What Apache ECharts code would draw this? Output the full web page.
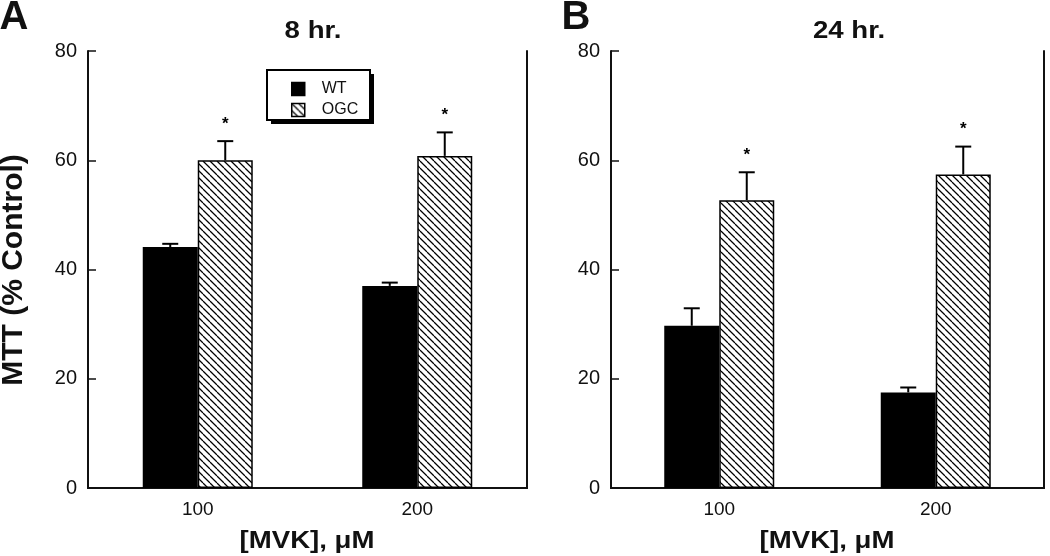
<!DOCTYPE html>
<html><head><meta charset="utf-8">
<script src="https://cdn.jsdelivr.net/npm/echarts@6/dist/echarts.min.js"></script>
<style>html,body{margin:0;padding:0;background:#fff}#c{width:1050px;height:556px}</style>
</head><body><div id="c"></div>
<script>
// ---- data ----
const categories = ['100', '200'];
const yTicks = [0, 20, 40, 60, 80];
const seriesNames = ['WT', 'OGC'];
const panelTitles = ['8 hr.', '24 hr.'];
const panelLetters = ['A', 'B'];
const xAxisTitle = '[MVK], μM';
const yAxisTitle = 'MTT (% Control)';
const wt8 = [44.1, 37.0];
const wt8Err = [0.6, 0.6];
const ogc8 = [60.0, 60.8];
const ogc8Err = [3.5, 4.3];
const wt24 = [29.7, 17.5];
const wt24Err = [3.2, 0.9];
const ogc24 = [52.7, 57.4];
const ogc24Err = [5.1, 5.1];
const sigWT = [false, false];
const sigOGC = [true, true];

const FONT = '"Liberation Sans", Arial, Helvetica, sans-serif';
const INK = '#111';
const BARW = 55;
const STRETCH = 1.2;

function hatch() {
  const c = document.createElement('canvas');
  c.width = 7; c.height = 7;
  const g = c.getContext('2d');
  g.fillStyle = '#fff'; g.fillRect(0, 0, 7, 7);
  g.strokeStyle = '#000'; g.lineWidth = 1.25;
  g.beginPath();
  for (const k of [-7, 0, 7]) { g.moveTo(k, 0); g.lineTo(k + 7, 7); }
  g.stroke();
  return c;
}
const hatchPattern = { image: hatch(), repeat: 'repeat' };

const grids = [
  { left: 88, top: 51, width: 439, height: 437 },
  { left: 611, top: 51, width: 433, height: 437 }
];

const xAxes = [], yAxes = [], series = [];
grids.forEach((g, i) => {
  xAxes.push({
    type: 'category', gridIndex: i, data: categories, position: 'bottom',
    axisLine: { lineStyle: { color: INK, width: 2 } },
    axisTick: { inside: true, length: 7, lineStyle: { color: INK, width: 1.5 } },
    axisLabel: { color: INK, fontSize: 19, fontFamily: FONT, margin: 12 }
  });
  xAxes.push({
    type: 'category', gridIndex: i, data: categories, position: 'top',
    axisLine: { lineStyle: { color: INK, width: 2 } },
    axisTick: { inside: true, length: 7, lineStyle: { color: INK, width: 1.5 } },
    axisLabel: { show: false }
  });
  yAxes.push({
    type: 'value', gridIndex: i, min: yTicks[0], max: yTicks[yTicks.length - 1], interval: 20,
    axisLine: { show: true, lineStyle: { color: INK, width: 2 } },
    axisTick: { show: true, inside: true, length: 8, lineStyle: { color: INK, width: 1.5 } },
    axisLabel: { color: INK, fontSize: 20, fontFamily: FONT, margin: 11 },
    splitLine: { show: false }
  });
  yAxes.push({
    type: 'value', gridIndex: i, position: 'right', min: yTicks[0], max: yTicks[yTicks.length - 1], interval: 20,
    axisLine: { show: true, lineStyle: { color: INK, width: 2 } },
    axisTick: { show: false }, axisLabel: { show: false }, splitLine: { show: false }
  });
});

const panels = [
  { wt: wt8, wtErr: wt8Err, ogc: ogc8, ogcErr: ogc8Err },
  { wt: wt24, wtErr: wt24Err, ogc: ogc24, ogcErr: ogc24Err }
];

function errSeries(name, vals, errs, sig, xi, yi, off) {
  return {
    type: 'custom', name: name, xAxisIndex: xi, yAxisIndex: yi, z: 5,
    data: vals.map((v, k) => [k, v, errs[k], sig[k] ? 1 : 0]),
    renderItem: function (params, api) {
      const k = api.value(0), v = api.value(1), e = api.value(2), s = api.value(3);
      const b = api.coord([k, v]);
      const t = api.coord([k, v + e]);
      const x = b[0] + off;
      const ls = { stroke: '#000', lineWidth: 2 };
      const ch = [
        { type: 'line', shape: { x1: x, y1: b[1], x2: x, y2: t[1] }, style: ls },
        { type: 'line', shape: { x1: x - 8, y1: t[1], x2: x + 8, y2: t[1] }, style: ls }
      ];
      if (s) ch.push({ type: 'text', style: { text: '*', x: x, y: t[1] - 17, align: 'center', verticalAlign: 'middle', fill: '#000', font: 'bold 17px ' + FONT } });
      return { type: 'group', children: ch };
    }
  };
}

panels.forEach((p, i) => {
  const xi = i * 2, yi = i * 2;
  series.push({
    type: 'bar', name: seriesNames[0], xAxisIndex: xi, yAxisIndex: yi, data: p.wt,
    barWidth: BARW, barGap: '0%',
    itemStyle: { color: '#000', borderColor: '#000', borderWidth: 1.5 }
  });
  series.push({
    type: 'bar', name: seriesNames[1], xAxisIndex: xi, yAxisIndex: yi, data: p.ogc,
    barWidth: BARW, barGap: '0%',
    itemStyle: { color: hatchPattern, borderColor: '#000', borderWidth: 1.5 }
  });
  series.push(errSeries('err-wt-' + i, p.wt, p.wtErr, sigWT, xi, yi, -BARW / 2));
  series.push(errSeries('err-ogc-' + i, p.ogc, p.ogcErr, sigOGC, xi, yi, BARW / 2));
});

function txt(text, x, y, size, opts) {
  return Object.assign({
    type: 'text', x: x, y: y, scaleX: STRETCH, z: 10,
    style: { text: text, fill: INK, font: 'bold ' + size + 'px ' + FONT, align: 'center', verticalAlign: 'middle' }
  }, opts || {});
}

const option = {
  animation: false,
  backgroundColor: '#fff',
  textStyle: { fontFamily: FONT },
  grid: grids.map(g => Object.assign({ show: false }, g)),
  xAxis: xAxes,
  yAxis: yAxes,
  graphic: [
    txt(panelTitles[0], 313, 32, 23),
    txt(panelTitles[1], 849, 32, 23),
    txt(panelLetters[0], 14, 18, 40, { scaleX: 1 }),
    txt(panelLetters[1], 576, 18, 40, { scaleX: 1 }),
    txt(xAxisTitle, 307, 542, 23),
    txt(xAxisTitle, 827, 542, 23),
    { type: 'text', x: 14, y: 270, rotation: Math.PI / 2, z: 10,
      style: { text: yAxisTitle, fill: INK, font: 'bold 30px ' + FONT, align: 'center', verticalAlign: 'middle' } },
    { type: 'rect', z: 1, shape: { x: 271, y: 74, width: 103, height: 50 }, style: { fill: '#000' } },
    { type: 'rect', z: 1, shape: { x: 267, y: 70, width: 103, height: 50 }, style: { fill: '#fff', stroke: '#000', lineWidth: 2 } }
  ],
  legend: {
    data: seriesNames.map(n => ({ name: n, icon: 'rect' })), orient: 'vertical', left: 267, top: 70, z: 20,
    padding: [11, 10, 8, 24], itemGap: 5, itemWidth: 13, itemHeight: 13,
    selectedMode: false,
    textStyle: { color: INK, fontSize: 16, fontFamily: FONT, padding: [0, 0, 0, 12] },
    itemStyle: { borderColor: '#000', borderWidth: 1.5 }
  },
  series: series
};
const chart = echarts.init(document.getElementById('c'), null, { renderer: 'canvas' });
chart.setOption(option);
</script></body></html>
